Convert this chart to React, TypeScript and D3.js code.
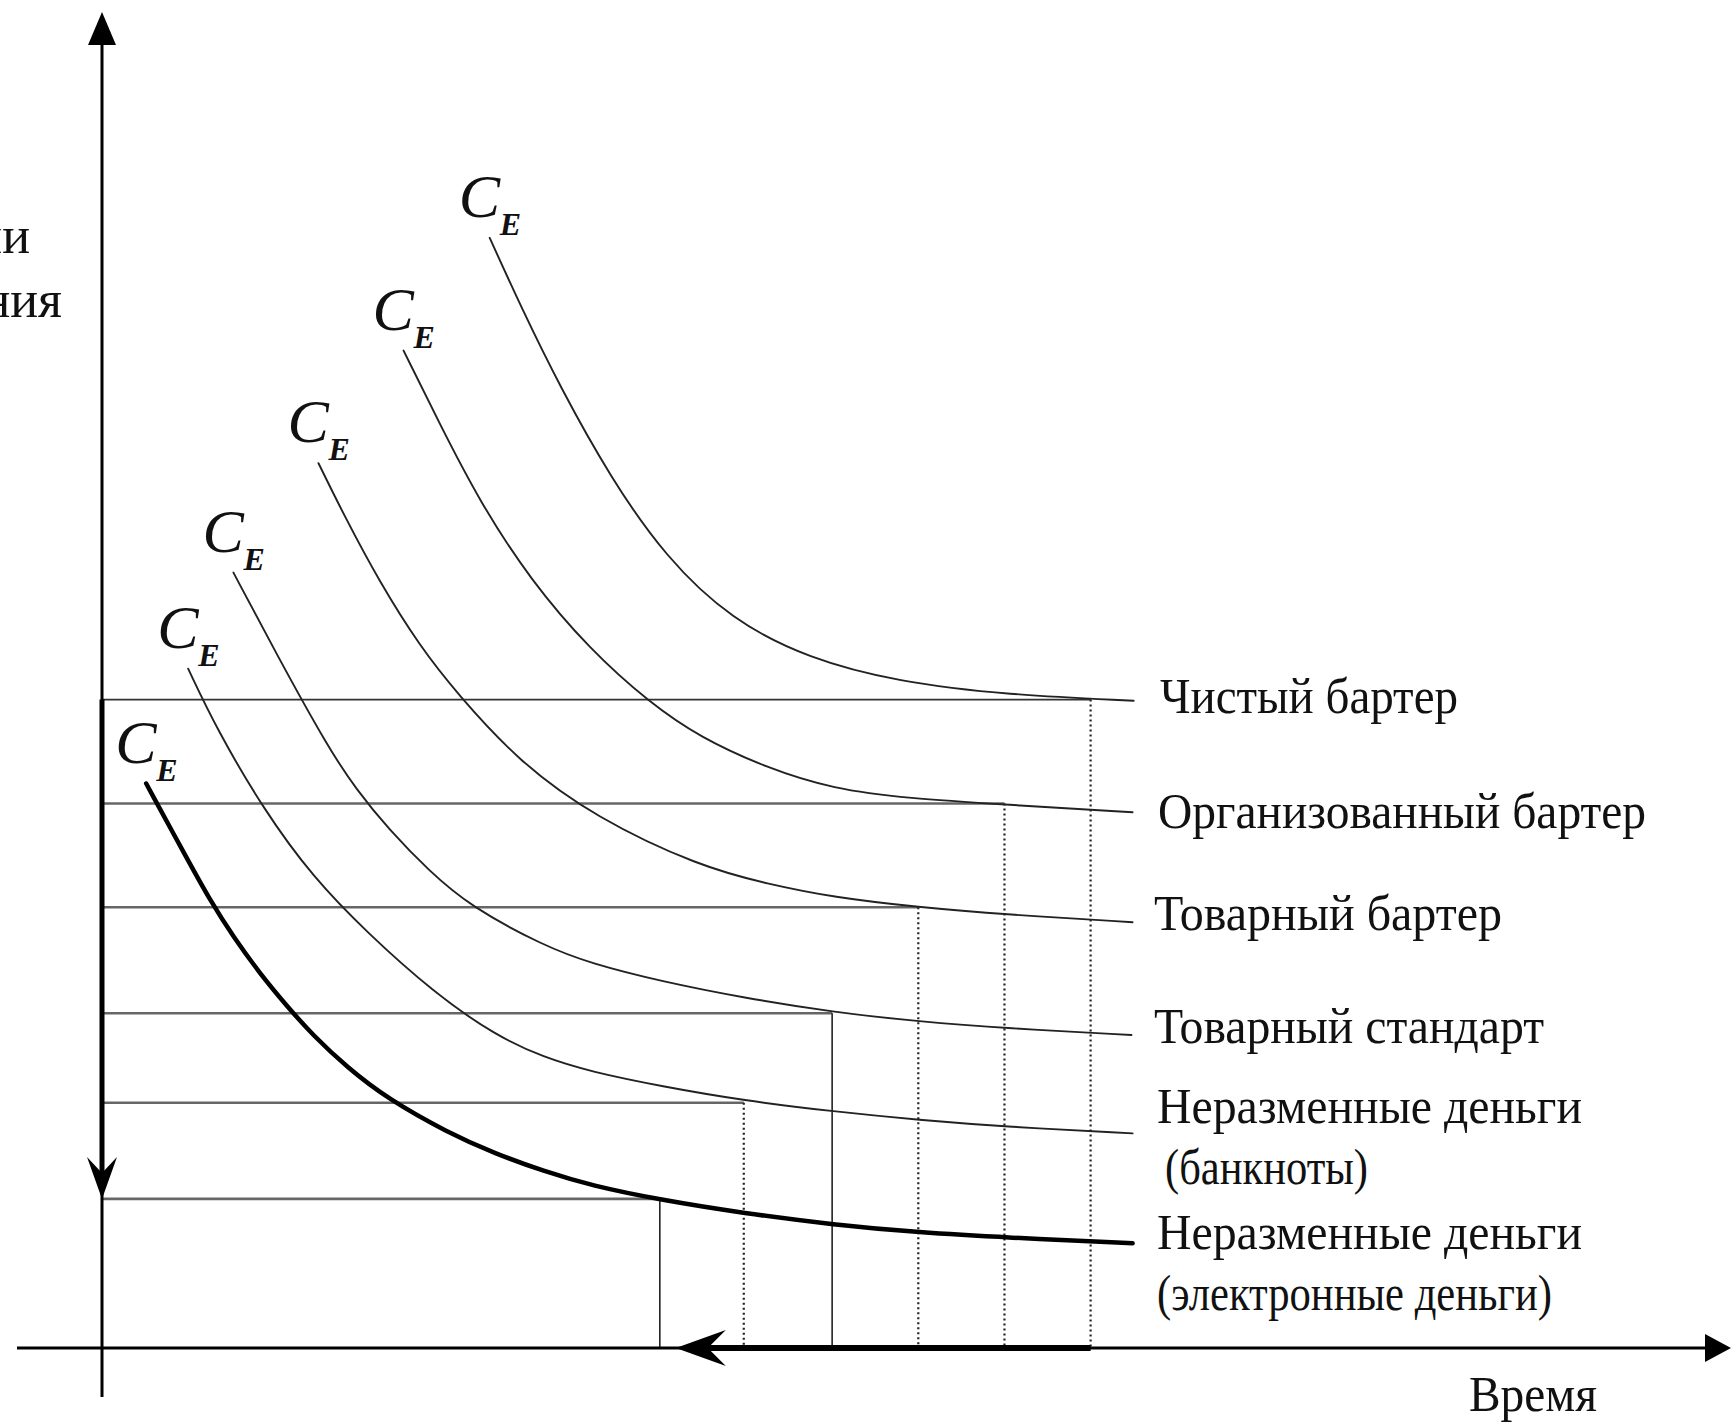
import React from "react";
import * as d3 from "d3";

// Cost-of-exchange curves (time units, cost units)
const curvePureBarter: [number, number][] = [[351,1005],[380,941],[415,869.5],[460,788.5],[510,716],[570,659],[640,624],[720,603.2],[820,591.2],[934,586]];
const curveOrganizedBarter: [number, number][] = [[273,903],[305,838],[342,766],[388,695],[442,632],[496,584],[541,553],[602,525],[662,506],[730,497.5],[817,492],[933,485]];
const curveCommodityBarter: [number, number][] = [[196,801],[218,756],[252,692],[288,635],[321,593],[377,531],[447,480],[541,436],[603,420],[662,408],[739,399],[817,392.5],[933,385.5]];
const curveCommodityStandard: [number, number][] = [[119,702],[157,630],[205,543],[230,506],[260,469],[296,432],[333,400],[400,364],[443,348],[506,332],[581,317],[662,304],[740,295.5],[818,289.5],[932,283.4]];
const curveBanknotes: [number, number][] = [[78,615],[104,560],[146,488],[191,426],[240,376],[300,322],[356,283],[400,263],[443,250],[506,237],[581,224],[663,214],[740,206.4],[818,200.3],[933,194.3]];
const curveElectronic: [number, number][] = [[40,511],[77,443],[98,405],[119,372],[143,339],[167,310],[191,283],[222,254],[258,226],[313,195],[356,176],[400,160],[443,147],[506,134],[581,122],[663,111.5],[740,104.5],[818,100],[933,94.8]];

const curves = [curvePureBarter, curveOrganizedBarter, curveCommodityBarter, curveCommodityStandard, curveBanknotes, curveElectronic];

// Cost levels and time of switch to each form
const costLevels = [587, 493, 399, 303, 222, 135];
const switchTimes = [895, 817, 739, 661, 581, 505];

const labelLines: string[][] = [
  ["Чистый бартер"],
  ["Организованный бартер"],
  ["Товарный бартер"],
  ["Товарный стандарт"],
  ["Неразменные деньги", "(банкноты)"],
  ["Неразменные деньги", "(электронные деньги)"],
];

const yTitle = ["Издержки эмиссии", "и обращения"];
const xTitle = "Время";

export default function App() {
  const W = 1732, H = 1428;
  const k = 1.1046;
  const x = d3.scaleLinear().domain([0, 1000]).range([102, 102 + 1000 * k]);
  const y = d3.scaleLinear().domain([0, 1000]).range([1348, 1348 - 1000 * k]);
  const line = d3.line<[number, number]>().x(d => x(d[0])).y(d => y(d[1])).curve(d3.curveBasis);

  const dashed = [true, true, true, false, true, false];
  const labelX = [1160, 1158, 1154, 1154, 1157, 1157];
  const labelSecondX = [0, 0, 0, 0, 1165, 1157];
  const labelDy = [12, 16, 8, 8, -10, 6];
  const labelWidths = [[298], [488], [348], [390], [425, 203], [425, 395]];
  const lineGap = 61;

  const x0 = x(0), yAxis0 = y(0);
  const topLevel = y(costLevels[0]);
  const botLevel = y(costLevels[5]);
  const arrowTipX = x(switchTimes[5]) + 16;

  const font = "'Liberation Serif', 'Times New Roman', serif";

  return (
    <svg width={W} height={H} style={{ position: "absolute", left: 0, top: 0, background: "#fff" }} fontFamily={font}>
      <rect width={W} height={H} fill="#fff" />
      {/* horizontal level lines */}
      {costLevels.map((lv, i) => (
        <line key={"h" + i} x1={x0} x2={x(switchTimes[i])} y1={y(lv)} y2={y(lv)}
          stroke={i === 0 ? "#333" : "#666"} strokeWidth={i === 0 ? 1.8 : 2.6} />
      ))}
      {/* vertical drop lines */}
      {switchTimes.map((t, i) => (
        <line key={"v" + i} x1={x(t)} x2={x(t)} y1={y(costLevels[i])} y2={yAxis0}
          stroke="#222" strokeWidth={dashed[i] ? 2.2 : 1.6} strokeDasharray={dashed[i] ? "2 3" : undefined} />
      ))}
      {/* curves */}
      {curves.map((c, i) => (
        <path key={"c" + i} d={line(c) || ""} fill="none" stroke={i === 5 ? "#000" : "#222"}
          strokeWidth={i === 5 ? 4.5 : 1.9} strokeLinecap="round" />
      ))}
      {/* C_E labels */}
      {curves.map((c, i) => {
        const sx = x(c[0][0]), sy = y(c[0][1]);
        return (
          <g key={"ce" + i}>
            <text x={sx - 31} y={sy - 21} fontSize={62} fontStyle="italic" fill="#111">C</text>
            <text x={sx + 10} y={sy - 3} fontSize={32} fontStyle="italic" fontWeight="bold" fill="#111">E</text>
          </g>
        );
      })}
      {/* axes */}
      <line x1={x0} x2={x0} y1={1397} y2={40} stroke="#000" strokeWidth={3} />
      <polygon points={`${x0},12 ${x0 - 14},45 ${x0 + 14},45`} fill="#000" />
      <line x1={17} x2={1705} y1={yAxis0} y2={yAxis0} stroke="#000" strokeWidth={3} />
      <polygon points={`1731,${yAxis0} 1705,${yAxis0 - 14} 1705,${yAxis0 + 14}`} fill="#000" />
      {/* thick arrow down y-axis */}
      <line x1={x0} x2={x0} y1={topLevel} y2={botLevel - 20} stroke="#000" strokeWidth={5} />
      <path d={`M${x0 - 15},${botLevel - 42} L${x0},${botLevel} L${x0 + 15},${botLevel - 42} L${x0},${botLevel - 26} Z`} fill="#000" />
      {/* thick arrow left along x-axis */}
      <line x1={x(switchTimes[0])} x2={arrowTipX + 20} y1={yAxis0} y2={yAxis0} stroke="#000" strokeWidth={6} />
      <path d={`M${arrowTipX + 50},${yAxis0 - 18} L${arrowTipX},${yAxis0} L${arrowTipX + 50},${yAxis0 + 18} L${arrowTipX + 32},${yAxis0} Z`} fill="#000" />
      {/* curve labels */}
      {labelLines.map((ls, i) => {
        const endY = y(curves[i][curves[i].length - 1][1]);
        return ls.map((s, j) => (
          <text key={"l" + i + "_" + j} x={j === 0 ? labelX[i] : labelSecondX[i]} y={endY + labelDy[i] + j * lineGap}
            fontSize={50} fill="#111" textLength={labelWidths[i][j]} lengthAdjust="spacingAndGlyphs">{s}</text>
        ));
      })}
      {/* axis titles */}
      <text x={30} y={253} fontSize={52} textAnchor="end" fill="#111">{yTitle[0]}</text>
      <text x={62} y={317} fontSize={52} textAnchor="end" fill="#111">{yTitle[1]}</text>
      <text x={1469} y={1411} fontSize={50} fill="#111" textLength={128} lengthAdjust="spacingAndGlyphs">{xTitle}</text>
    </svg>
  );
}
